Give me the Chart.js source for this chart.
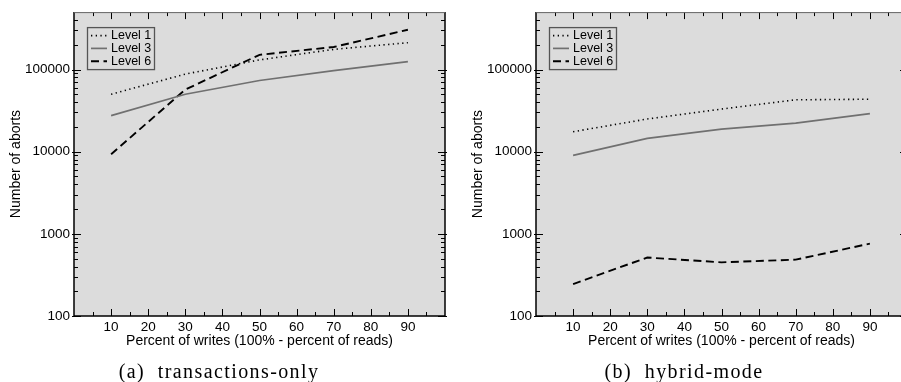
<!DOCTYPE html>
<html>
<head>
<meta charset="utf-8">
<script src="https://cdn.jsdelivr.net/npm/chart.js@4.4.1/dist/chart.umd.min.js"></script>
<style>
  html, body { margin: 0; padding: 0; background: #fff; overflow: hidden; }
  #wrap { position: relative; width: 901px; height: 382px; overflow: hidden; }
  .box { position: absolute; top: 0; width: 450px; height: 382px; }
  .caption { position: absolute; top: 360px; transform: translateX(-50%); white-space: pre;
    font-family: "Liberation Serif", "DejaVu Serif", serif; font-size: 20px; letter-spacing: 1.4px; color: #000; }
</style>
</head>
<body>
<div id="wrap">
  <div class="box" style="left:0px"><canvas id="chartA" width="450" height="382"></canvas></div>
  <div class="box" style="left:462px"><canvas id="chartB" width="450" height="382"></canvas></div>
  <div class="caption" style="left:219px">(a)  transactions-only</div>
  <div class="caption" style="left:684px">(b)  hybrid-mode</div>
</div>
<script>
// percent of writes
const writes = [10, 30, 50, 70, 90];

// (a) transactions-only
const txLevel1 = [50000, 88000, 131000, 176000, 212000];
const txLevel3 = [27500, 50000, 73500, 97000, 125000];
const txLevel6 = [9300, 57000, 151000, 188000, 305000];

// (b) hybrid-mode
const hyLevel1 = [17500, 25000, 33000, 42800, 43500];
const hyLevel3 = [9000, 14500, 18800, 22300, 29000];
const hyLevel6 = [245, 515, 450, 485, 760];

const seriesLabels = ['Level 1', 'Level 3', 'Level 6'];
const xTickLabels = [10, 20, 30, 40, 50, 60, 70, 80, 90];
const yTickLabels = [100, 1000, 10000, 100000];
const yMinorSteps = [2, 3, 4, 5, 6, 7, 8, 9];

const xTicks = [];
for (let v = 5; v < 100; v += 5) xTicks.push(v);
const yTicks = [];
yTickLabels.forEach(p => {
  yTicks.push(p);
  yMinorSteps.forEach(m => { if (p * m < 500000) yTicks.push(p * m); });
});

const styles = [
  { borderColor: '#000', borderWidth: 1.6, borderDash: [1.3, 3.4] },
  { borderColor: '#707070', borderWidth: 1.7, borderDash: [] },
  { borderColor: '#000', borderWidth: 1.9, borderDash: [8, 4.5] },
];

const toPoints = arr => arr.map((y, i) => ({ x: writes[i], y }));

// grey plot area, inward ticks on all four sides, boxed legend
const framePlugin = {
  id: 'frame',
  beforeDraw(chart) {
    const { ctx, chartArea: a } = chart;
    ctx.save();
    ctx.fillStyle = '#dcdcdc';
    ctx.fillRect(a.left, a.top, a.right - a.left, a.bottom - a.top);
    ctx.restore();
  },
  afterDraw(chart) {
    const { ctx, chartArea: a, scales } = chart;
    ctx.save();
    ctx.strokeStyle = '#000';
    ctx.lineWidth = 1;
    scales.x.ticks.forEach(t => {
      const px = Math.round(scales.x.getPixelForValue(t.value)) + 0.5;
      const len = t.value % 10 === 0 ? 7 : 4;
      ctx.beginPath();
      ctx.moveTo(px, a.bottom); ctx.lineTo(px, a.bottom - len);
      ctx.moveTo(px, a.top); ctx.lineTo(px, a.top + len);
      ctx.stroke();
    });
    scales.y.ticks.forEach(t => {
      const py = Math.round(scales.y.getPixelForValue(t.value)) + 0.5;
      const major = yTickLabels.includes(t.value);
      const len = major ? 7 : 4;
      ctx.beginPath();
      ctx.moveTo(a.left - (major ? 2 : 0), py); ctx.lineTo(a.left + len, py);
      ctx.moveTo(a.right + (major ? 2 : 0), py); ctx.lineTo(a.right - len, py);
      ctx.stroke();
    });
    ctx.lineWidth = 1.5;
    ctx.beginPath();
    ctx.moveTo(a.left, a.top); ctx.lineTo(a.left, a.bottom);
    ctx.lineTo(a.right, a.bottom); ctx.lineTo(a.right, a.top);
    ctx.stroke();
    ctx.strokeStyle = '#666';
    ctx.lineWidth = 1;
    ctx.beginPath();
    ctx.moveTo(a.left, a.top + 0.5); ctx.lineTo(a.right, a.top + 0.5);
    ctx.stroke();

    // legend
    const lx = a.left + 13, ly = a.top + 15, lw = 67, lh = 42;
    ctx.strokeStyle = '#555';
    ctx.lineWidth = 1.3;
    ctx.strokeRect(lx + 0.5, ly + 0.5, lw, lh);
    ctx.font = '12.5px "Liberation Sans", Arial, sans-serif';
    ctx.textBaseline = 'middle';
    ctx.fillStyle = '#000';
    chart.data.datasets.forEach((ds, i) => {
      const y = ly + 8.5 + i * 12.8;
      ctx.strokeStyle = ds.borderColor;
      ctx.lineWidth = ds.borderWidth;
      ctx.setLineDash(ds.borderDash);
      ctx.beginPath();
      ctx.moveTo(lx + 4, y); ctx.lineTo(lx + 20, y);
      ctx.stroke();
      ctx.setLineDash([]);
      ctx.fillText(ds.label, lx + 24, y);
    });
    ctx.restore();
  }
};

function makeChart(id, l1, l3, l6) {
  const values = [l1, l3, l6];
  return new Chart(document.getElementById(id), {
    type: 'line',
    data: {
      datasets: values.map((v, i) => ({
        label: seriesLabels[i],
        data: toPoints(v),
        borderColor: styles[i].borderColor,
        borderWidth: styles[i].borderWidth,
        borderDash: styles[i].borderDash,
        pointRadius: 0,
        tension: 0,
        fill: false,
      })),
    },
    options: {
      responsive: false,
      animation: false,
      events: [],
      layout: { padding: { top: 8, right: 5, bottom: 27, left: 0 } },
      plugins: { legend: { display: false }, tooltip: { enabled: false } },
      scales: {
        x: {
          type: 'linear',
          min: 0,
          max: 100,
          afterBuildTicks: s => { s.ticks = xTicks.map(v => ({ value: v })); },
          afterFit: s => { s.height = 39; },
          grid: { display: false, drawTicks: false },
          border: { display: false },
          ticks: {
            autoSkip: false,
            maxRotation: 0,
            padding: 3,
            color: '#000',
            font: { family: '"Liberation Sans", Arial, sans-serif', size: 13.5 },
            callback: v => xTickLabels.includes(v) ? String(v) : '',
          },
          title: {
            display: true,
            text: 'Percent of writes (100% - percent of reads)',
            color: '#000',
            padding: { top: 0, bottom: 5 },
            font: { family: '"Liberation Sans", Arial, sans-serif', size: 14 },
          },
        },
        y: {
          type: 'logarithmic',
          min: 100,
          max: 500000,
          afterBuildTicks: s => { s.ticks = yTicks.map(v => ({ value: v })); },
          afterFit: s => { s.width = 74; },
          grid: { display: false, drawTicks: false },
          border: { display: false },
          ticks: {
            autoSkip: false,
            padding: 4,
            color: '#000',
            font: { family: '"Liberation Sans", Arial, sans-serif', size: 13.5 },
            callback: v => yTickLabels.includes(v) ? String(v) : '',
          },
          title: {
            display: true,
            text: 'Number of aborts',
            color: '#000',
            padding: { top: 8, bottom: 0 },
            font: { family: '"Liberation Sans", Arial, sans-serif', size: 14 },
          },
        },
      },
    },
    plugins: [framePlugin],
  });
}

makeChart('chartA', txLevel1, txLevel3, txLevel6);
makeChart('chartB', hyLevel1, hyLevel3, hyLevel6);
</script>
</body>
</html>
